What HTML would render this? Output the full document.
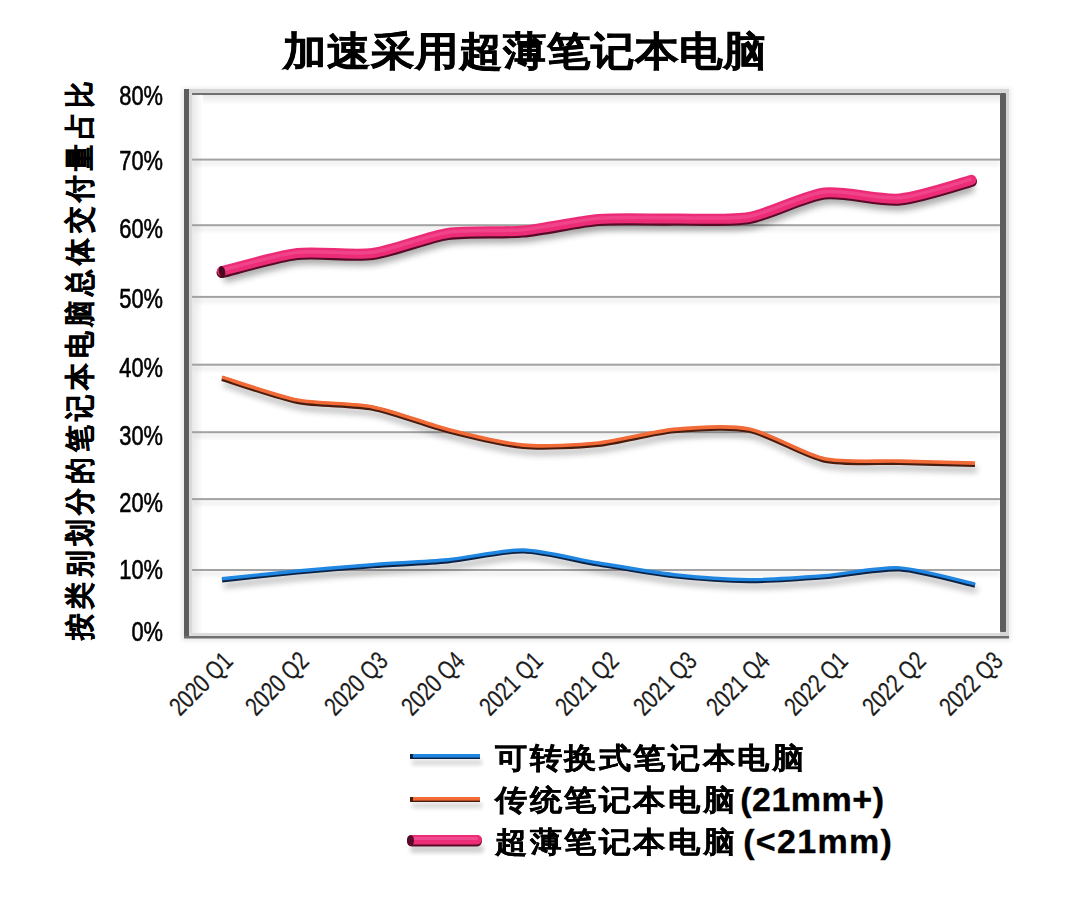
<!DOCTYPE html>
<html><head><meta charset="utf-8"><style>
html,body{margin:0;padding:0;background:#fff;}
body{width:1073px;height:920px;position:relative;overflow:hidden;font-family:"Liberation Sans",sans-serif;color:#000;}
.title{position:absolute;left:283px;top:28px;font-size:44px;font-weight:bold;white-space:nowrap;line-height:50px;transform-origin:0 0;transform:scaleY(0.92);-webkit-text-stroke:0.6px #000;}
.ytitle{position:absolute;left:0;top:0;font-size:30px;font-weight:bold;letter-spacing:5.15px;white-space:nowrap;line-height:30px;transform-origin:0 0;-webkit-text-stroke:0.5px #000;}
.yl{position:absolute;right:910px;line-height:27px;font-size:27px;white-space:nowrap;transform-origin:100% 0;transform:scaleX(0.81);-webkit-text-stroke:0.6px #000;}
.xl{position:absolute;width:0;height:0;transform-origin:0 0;transform:rotate(-45deg);}
.xl span{position:absolute;left:0;bottom:0;font-size:26px;line-height:26px;white-space:nowrap;color:#1c1c1c;transform-origin:0 100%;transform:translateY(5.5px) scaleX(0.77);-webkit-text-stroke:0.2px #1c1c1c;}
.lg{position:absolute;left:495px;font-size:32px;font-weight:bold;white-space:nowrap;line-height:40px;-webkit-text-stroke:0.35px #000;}
.cj{display:inline-block;letter-spacing:2.6px;transform-origin:0 0;transform:scaleY(0.9);}
.lt{display:inline-block;font-size:34px;letter-spacing:0.5px;vertical-align:top;position:relative;top:-3px;}
svg{position:absolute;left:0;top:0;}
</style></head><body>
<svg width="1073" height="920" viewBox="0 0 1073 920">
<defs>
<filter id="b2" x="-10%" y="-200%" width="120%" height="500%"><feGaussianBlur stdDeviation="2"/></filter>
<filter id="b4" x="-10%" y="-50%" width="120%" height="200%"><feGaussianBlur stdDeviation="3"/></filter>
<filter id="b6" x="-10%" y="-50%" width="120%" height="200%"><feGaussianBlur stdDeviation="5"/></filter>
<linearGradient id="lw" x1="0" x2="1" y1="0" y2="0"><stop offset="0" stop-color="#e2e2e2"/><stop offset="1" stop-color="#ffffff"/></linearGradient>
<linearGradient id="tw" x1="0" x2="0" y1="0" y2="1"><stop offset="0" stop-color="#e8e8e8"/><stop offset="1" stop-color="#ffffff"/></linearGradient>
</defs>
<rect x="182" y="88" width="829" height="553" fill="#000" opacity="0.08" filter="url(#b2)"/>
<rect x="184" y="89" width="825" height="549" fill="#d6d6d6"/>
<rect x="189" y="93" width="811" height="543" fill="#fff"/>
<rect x="189" y="95" width="811" height="10" fill="url(#tw)"/>
<rect x="189" y="93" width="14" height="543" fill="url(#lw)"/>
<rect x="192" y="93" width="808" height="2" fill="#707070"/>
<rect x="189" y="93" width="3" height="540" fill="#dadada"/>
<rect x="184" y="89" width="5" height="549" fill="#5e5e5e"/>
<rect x="1000" y="93" width="6" height="539" rx="1" fill="#5e5e5e"/>
<rect x="184" y="636" width="825" height="2.5" fill="#707070"/>
<rect x="189" y="633" width="811" height="3" fill="#dcdcdc"/>
<rect x="194" y="161.1" width="806" height="4" fill="#000" opacity="0.07" filter="url(#b2)"/><rect x="194" y="226.7" width="806" height="4" fill="#000" opacity="0.07" filter="url(#b2)"/><rect x="194" y="298.4" width="806" height="4" fill="#000" opacity="0.07" filter="url(#b2)"/><rect x="194" y="366.2" width="806" height="4" fill="#000" opacity="0.07" filter="url(#b2)"/><rect x="194" y="433.7" width="806" height="4" fill="#000" opacity="0.07" filter="url(#b2)"/><rect x="194" y="500.6" width="806" height="4" fill="#000" opacity="0.07" filter="url(#b2)"/><rect x="194" y="571.5" width="806" height="4" fill="#000" opacity="0.07" filter="url(#b2)"/>
<rect x="192" y="158.6" width="808" height="2" fill="#a2a2a2"/><rect x="192" y="224.2" width="808" height="2" fill="#a2a2a2"/><rect x="192" y="295.9" width="808" height="2" fill="#a2a2a2"/><rect x="192" y="363.7" width="808" height="2" fill="#a2a2a2"/><rect x="192" y="431.2" width="808" height="2" fill="#a2a2a2"/><rect x="192" y="498.1" width="808" height="2" fill="#a2a2a2"/><rect x="192" y="569.0" width="808" height="2" fill="#a2a2a2"/>
<path d="M222.0 579.3 C231.8 578.3 277.7 573.3 297.3 571.5 C316.9 569.7 353.0 566.7 372.6 565.2 C392.2 563.7 428.3 562.2 447.9 560.3 C467.5 558.4 503.6 550.1 523.2 550.5 C542.8 550.9 578.9 560.3 598.5 563.5 C618.1 566.7 654.2 573.0 673.8 575.2 C693.4 577.4 729.5 580.0 749.1 580.1 C768.7 580.2 804.8 577.7 824.4 576.2 C844.0 574.7 880.1 567.3 899.7 568.4 C919.3 569.5 965.2 582.5 975.0 584.6" transform="translate(2,6)" fill="none" stroke="#000" stroke-opacity="0.30" stroke-width="5" filter="url(#b4)"/>
<path d="M222.0 579.3 C231.8 578.3 277.7 573.3 297.3 571.5 C316.9 569.7 353.0 566.7 372.6 565.2 C392.2 563.7 428.3 562.2 447.9 560.3 C467.5 558.4 503.6 550.1 523.2 550.5 C542.8 550.9 578.9 560.3 598.5 563.5 C618.1 566.7 654.2 573.0 673.8 575.2 C693.4 577.4 729.5 580.0 749.1 580.1 C768.7 580.2 804.8 577.7 824.4 576.2 C844.0 574.7 880.1 567.3 899.7 568.4 C919.3 569.5 965.2 582.5 975.0 584.6" transform="translate(0,0.8)" fill="none" stroke="#0b2245" stroke-width="4.6"/>
<path d="M222.0 579.3 C231.8 578.3 277.7 573.3 297.3 571.5 C316.9 569.7 353.0 566.7 372.6 565.2 C392.2 563.7 428.3 562.2 447.9 560.3 C467.5 558.4 503.6 550.1 523.2 550.5 C542.8 550.9 578.9 560.3 598.5 563.5 C618.1 566.7 654.2 573.0 673.8 575.2 C693.4 577.4 729.5 580.0 749.1 580.1 C768.7 580.2 804.8 577.7 824.4 576.2 C844.0 574.7 880.1 567.3 899.7 568.4 C919.3 569.5 965.2 582.5 975.0 584.6" transform="translate(0,-0.5)" fill="none" stroke="#1f86e2" stroke-width="3.4"/>
<path d="M222.0 377.7 C231.8 380.7 277.7 396.8 297.3 400.7 C316.9 404.6 353.0 403.7 372.6 407.5 C392.2 411.3 428.3 425.0 447.9 430.0 C467.5 435.0 503.6 443.9 523.2 445.7 C542.8 447.5 578.9 445.6 598.5 443.6 C618.1 441.6 654.2 431.8 673.8 430.0 C693.4 428.2 729.5 425.8 749.1 429.6 C768.7 433.4 804.8 455.2 824.4 459.4 C844.0 463.6 880.1 461.1 899.7 461.7 C919.3 462.3 965.2 463.4 975.0 463.7" transform="translate(2,6)" fill="none" stroke="#000" stroke-opacity="0.30" stroke-width="5" filter="url(#b4)"/>
<path d="M222.0 377.7 C231.8 380.7 277.7 396.8 297.3 400.7 C316.9 404.6 353.0 403.7 372.6 407.5 C392.2 411.3 428.3 425.0 447.9 430.0 C467.5 435.0 503.6 443.9 523.2 445.7 C542.8 447.5 578.9 445.6 598.5 443.6 C618.1 441.6 654.2 431.8 673.8 430.0 C693.4 428.2 729.5 425.8 749.1 429.6 C768.7 433.4 804.8 455.2 824.4 459.4 C844.0 463.6 880.1 461.1 899.7 461.7 C919.3 462.3 965.2 463.4 975.0 463.7" transform="translate(0,0.8)" fill="none" stroke="#4a1c0e" stroke-width="5"/>
<path d="M222.0 377.7 C231.8 380.7 277.7 396.8 297.3 400.7 C316.9 404.6 353.0 403.7 372.6 407.5 C392.2 411.3 428.3 425.0 447.9 430.0 C467.5 435.0 503.6 443.9 523.2 445.7 C542.8 447.5 578.9 445.6 598.5 443.6 C618.1 441.6 654.2 431.8 673.8 430.0 C693.4 428.2 729.5 425.8 749.1 429.6 C768.7 433.4 804.8 455.2 824.4 459.4 C844.0 463.6 880.1 461.1 899.7 461.7 C919.3 462.3 965.2 463.4 975.0 463.7" transform="translate(0,-0.6)" fill="none" stroke="#f26a36" stroke-width="3.6"/>
<path d="M222.0 271.0 C231.8 268.7 277.7 255.3 297.3 253.0 C316.9 250.7 353.0 255.6 372.6 253.0 C392.2 250.4 428.3 235.9 447.9 233.0 C467.5 230.1 503.6 232.3 523.2 230.5 C542.8 228.7 578.9 220.6 598.5 219.0 C618.1 217.4 654.2 218.8 673.8 218.5 C693.4 218.2 729.5 220.4 749.1 217.0 C768.7 213.6 804.8 194.9 824.4 192.5 C844.0 190.1 880.1 200.3 899.7 198.5 C919.3 196.7 965.2 181.5 971.5 179.8" transform="translate(2,7)" fill="none" stroke="#000" stroke-opacity="0.32" stroke-width="10" filter="url(#b4)"/>
<path d="M222.0 271.0 C231.8 268.7 277.7 255.3 297.3 253.0 C316.9 250.7 353.0 255.6 372.6 253.0 C392.2 250.4 428.3 235.9 447.9 233.0 C467.5 230.1 503.6 232.3 523.2 230.5 C542.8 228.7 578.9 220.6 598.5 219.0 C618.1 217.4 654.2 218.8 673.8 218.5 C693.4 218.2 729.5 220.4 749.1 217.0 C768.7 213.6 804.8 194.9 824.4 192.5 C844.0 190.1 880.1 200.3 899.7 198.5 C919.3 196.7 965.2 181.5 971.5 179.8" transform="translate(0,1.6)" fill="none" stroke="#560a26" stroke-width="11" stroke-linecap="round"/>
<path d="M222.0 271.0 C231.8 268.7 277.7 255.3 297.3 253.0 C316.9 250.7 353.0 255.6 372.6 253.0 C392.2 250.4 428.3 235.9 447.9 233.0 C467.5 230.1 503.6 232.3 523.2 230.5 C542.8 228.7 578.9 220.6 598.5 219.0 C618.1 217.4 654.2 218.8 673.8 218.5 C693.4 218.2 729.5 220.4 749.1 217.0 C768.7 213.6 804.8 194.9 824.4 192.5 C844.0 190.1 880.1 200.3 899.7 198.5 C919.3 196.7 965.2 181.5 971.5 179.8" fill="none" stroke="#ec2c76" stroke-width="10" stroke-linecap="round"/>
<path d="M222.0 271.0 C231.8 268.7 277.7 255.3 297.3 253.0 C316.9 250.7 353.0 255.6 372.6 253.0 C392.2 250.4 428.3 235.9 447.9 233.0 C467.5 230.1 503.6 232.3 523.2 230.5 C542.8 228.7 578.9 220.6 598.5 219.0 C618.1 217.4 654.2 218.8 673.8 218.5 C693.4 218.2 729.5 220.4 749.1 217.0 C768.7 213.6 804.8 194.9 824.4 192.5 C844.0 190.1 880.1 200.3 899.7 198.5 C919.3 196.7 965.2 181.5 971.5 179.8" transform="translate(0,-0.8)" fill="none" stroke="#f4589a" stroke-width="3.5" opacity="0.55"/>
<rect x="412" y="760" width="70" height="5" fill="#000" opacity="0.16" filter="url(#b2)"/>
<rect x="410" y="754" width="70" height="5" fill="#0b2245"/>
<rect x="410" y="754" width="70" height="3.6" fill="#1f86e2"/>
<rect x="412" y="803" width="70" height="5" fill="#000" opacity="0.16" filter="url(#b2)"/>
<rect x="410" y="797" width="70" height="5" fill="#4a1c0e"/>
<rect x="410" y="797" width="70" height="3.6" fill="#f26a36"/>
<rect x="410" y="845" width="74" height="8" rx="4" fill="#000" opacity="0.18" filter="url(#b2)"/>
<rect x="407" y="835" width="75" height="11.5" rx="5.5" fill="#560a26"/>
<rect x="408" y="835" width="74" height="9.5" rx="4.75" fill="#ec2c76"/>
<rect x="412" y="837" width="66" height="3" rx="1.5" fill="#f4589a" opacity="0.7"/>
<ellipse cx="410.5" cy="840.5" rx="3.5" ry="5.5" fill="#5a0a28"/>
<rect x="410" y="754" width="3" height="5" fill="#0b2245"/>
<rect x="410" y="797" width="3" height="5" fill="#4a1c0e"/>
<ellipse cx="222" cy="271.5" rx="3.2" ry="5.5" transform="rotate(-12 222 271.5)" fill="#4a0820"/>
</svg>
<div class="title">加速采用超薄笔记本电脑</div>
<div class="ytitle" style="transform:translate(64.5px,640px) rotate(-90deg) scaleX(0.89)">按类别划分的笔记本电脑总体交付量占比</div>
<div class="yl" style="top:82.6px">80%</div><div class="yl" style="top:148.4px">70%</div><div class="yl" style="top:216.4px">60%</div><div class="yl" style="top:286.3px">50%</div><div class="yl" style="top:355.4px">40%</div><div class="yl" style="top:422.7px">30%</div><div class="yl" style="top:489.9px">20%</div><div class="yl" style="top:556.9px">10%</div><div class="yl" style="top:618.9px">0%</div>
<div class="xl" style="left:179.0px;top:715.8px"><span>2020 Q1</span></div><div class="xl" style="left:255.0px;top:715.8px"><span>2020 Q2</span></div><div class="xl" style="left:334.0px;top:715.8px"><span>2020 Q3</span></div><div class="xl" style="left:411.0px;top:715.8px"><span>2020 Q4</span></div><div class="xl" style="left:489.0px;top:715.8px"><span>2021 Q1</span></div><div class="xl" style="left:565.0px;top:715.8px"><span>2021 Q2</span></div><div class="xl" style="left:642.5px;top:715.8px"><span>2021 Q3</span></div><div class="xl" style="left:716.0px;top:715.8px"><span>2021 Q4</span></div><div class="xl" style="left:794.0px;top:715.8px"><span>2022 Q1</span></div><div class="xl" style="left:872.0px;top:715.8px"><span>2022 Q2</span></div><div class="xl" style="left:949.0px;top:715.8px"><span>2022 Q3</span></div>
<div class="lg" style="top:740px"><span class="cj">可转换式笔记本电脑</span></div>
<div class="lg" style="top:782px"><span class="cj">传统笔记本电脑</span><span class="lt" style="margin-left:3px">(21mm+)</span></div>
<div class="lg" style="top:824px"><span class="cj">超薄笔记本电脑</span><span class="lt" style="margin-left:6px;letter-spacing:1.3px">(&lt;21mm)</span></div>
</body></html>
